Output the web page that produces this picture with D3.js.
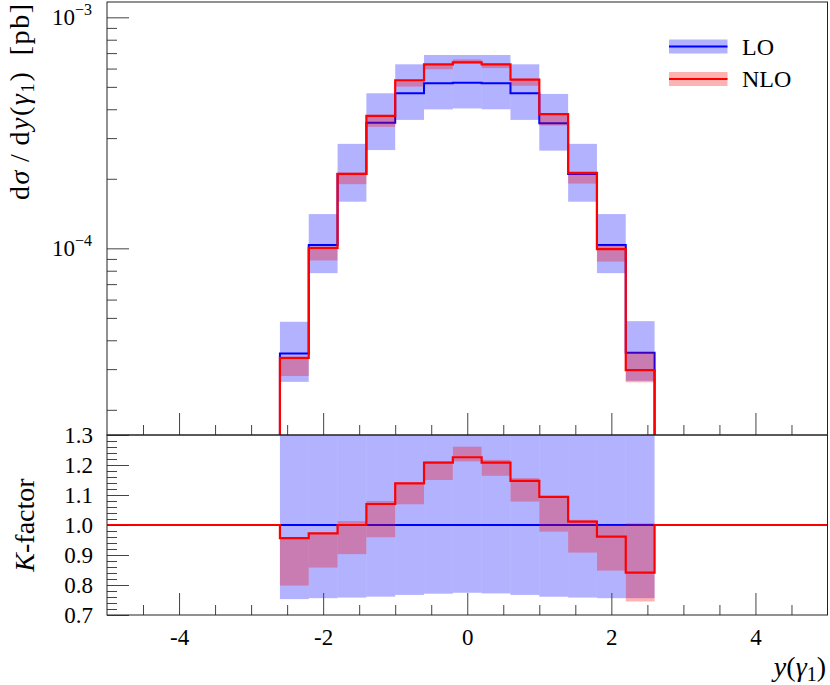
<!DOCTYPE html>
<html>
<head>
<meta charset="utf-8">
<script src="https://cdn.jsdelivr.net/npm/d3@7/dist/d3.min.js"></script>
<style>
  html, body { margin: 0; padding: 0; background: #fff; }
  svg { display: block; }
</style>
</head>
<body>
<svg id="chart" width="830" height="685" style="font-family: 'Liberation Serif', 'DejaVu Serif', serif;"></svg>
<script>
// ---------------- data ----------------
const binEdges = [-2.6, -2.2, -1.8, -1.4, -1.0, -0.6, -0.2, 0.2, 0.6, 1.0, 1.4, 1.8, 2.2, 2.6];

const loCentral = [3.51e-5, 1.033e-4, 2.10e-4, 3.50e-4, 4.69e-4, 5.18e-4, 5.21e-4, 5.18e-4, 4.69e-4, 3.48e-4, 2.10e-4, 1.033e-4, 3.53e-5];
const loUp      = [4.81e-5, 1.407e-4, 2.833e-4, 4.69e-4, 6.26e-4, 6.87e-4, 6.87e-4, 6.87e-4, 6.26e-4, 4.66e-4, 2.833e-4, 1.407e-4, 4.84e-5];
const loDown    = [2.643e-5, 7.81e-5, 1.592e-4, 2.664e-4, 3.597e-4, 3.994e-4, 4.033e-4, 3.999e-4, 3.597e-4, 2.648e-4, 1.592e-4, 7.81e-5, 2.669e-5];

const nloCentral = [3.356e-5, 1.004e-4, 2.10e-4, 3.745e-4, 5.342e-4, 6.257e-4, 6.387e-4, 6.257e-4, 5.379e-4, 3.807e-4, 2.123e-4, 9.927e-5, 2.969e-5];
const nloUp      = [3.359e-5, 1.006e-4, 2.127e-4, 3.78e-4, 5.356e-4, 6.278e-4, 6.57e-4, 6.304e-4, 5.422e-4, 3.818e-4, 2.136e-4, 1.033e-4, 3.551e-5];
const nloDown    = [2.801e-5, 8.863e-5, 1.896e-4, 3.357e-4, 5.014e-4, 5.957e-4, 6.315e-4, 6.03e-4, 5.056e-4, 3.403e-4, 1.907e-4, 8.76e-5, 2.63e-5];

const xDomain = [-5, 5];
const yTopDomain = [1.556e-5, 1.165e-3];
const yBotDomain = [0.7, 1.3];
const xMajorTicks = [-4, -2, 0, 2, 4];
const yTopMajorTicks = [1e-3, 1e-4];
const yTopTickLabels = [["10", "\u22123"], ["10", "\u22124"]];
const yBotMajorTicks = [1.3, 1.2, 1.1, 1.0, 0.9, 0.8, 0.7];
const legendLabels = ["LO", "NLO"];

// ---------------- layout ----------------
const FONT = "'Liberation Serif', 'DejaVu Serif', serif";
const L = 107, R = 827.5, T = 2, M = 435, B = 615;
const svg = d3.select("#chart");

const x = d3.scaleLinear().domain(xDomain).range([L, R]);
const yTop = d3.scaleLog().domain(yTopDomain).range([M, T]);
const yBot = d3.scaleLinear().domain(yBotDomain).range([B, M]);

const blue = "#0000ff", red = "#ff0000";

const defs = svg.append("defs");
defs.append("clipPath").attr("id", "clipTop").append("rect")
  .attr("x", L).attr("y", T).attr("width", R - L).attr("height", M - T);
defs.append("clipPath").attr("id", "clipBot").append("rect")
  .attr("x", L).attr("y", M).attr("width", R - L).attr("height", B - M);

const gTop = svg.append("g").attr("clip-path", "url(#clipTop)");
const gBot = svg.append("g").attr("clip-path", "url(#clipBot)");

const bins = loCentral.map((d, i) => ({ i, x0: binEdges[i], x1: binEdges[i + 1] }));

function bands(g, yS, up, down, color) {
  g.append("g").selectAll("rect").data(bins).join("rect")
    .attr("x", d => x(d.x0))
    .attr("width", d => x(d.x1) - x(d.x0))
    .attr("y", d => yS(up[d.i]))
    .attr("height", d => yS(down[d.i]) - yS(up[d.i]))
    .attr("fill", color).attr("fill-opacity", 0.3);
}

const stepLine = d3.line().x(d => x(d[0])).y(d => d[1]).curve(d3.curveStepAfter);

function topPath(vals) {
  const floorY = M + 20;
  const pts = [[binEdges[0], floorY]];
  vals.forEach((v, i) => pts.push([binEdges[i], yTop(v)]));
  pts.push([binEdges[binEdges.length - 1], floorY]);
  return stepLine(pts);
}
function ratioPath(vals) {
  const pts = [[xDomain[0], yBot(1)]];
  vals.forEach((v, i) => pts.push([binEdges[i], yBot(v / loCentral[i])]));
  pts.push([binEdges[binEdges.length - 1], yBot(1)]);
  pts.push([xDomain[1], yBot(1)]);
  return stepLine(pts);
}

// ---- upper panel ----
bands(gTop, yTop, loUp, loDown, blue);
gTop.append("path").attr("d", topPath(loCentral))
  .attr("fill", "none").attr("stroke", blue).attr("stroke-width", 2);
bands(gTop, yTop, nloUp, nloDown, red);
gTop.append("path").attr("d", topPath(nloCentral))
  .attr("fill", "none").attr("stroke", red).attr("stroke-width", 2.2);

// ---- lower panel ----
const loUpR = loUp.map((v, i) => v / loCentral[i]);
const loDownR = loDown.map((v, i) => v / loCentral[i]);
const nloUpR = nloUp.map((v, i) => v / loCentral[i]);
const nloDownR = nloDown.map((v, i) => v / loCentral[i]);
bands(gBot, yBot, loUpR, loDownR, blue);
gBot.append("path").attr("d", stepLine([[xDomain[0], yBot(1)], [xDomain[1], yBot(1)]]))
  .attr("fill", "none").attr("stroke", blue).attr("stroke-width", 2);
bands(gBot, yBot, nloUpR, nloDownR, red);
gBot.append("path").attr("d", ratioPath(nloCentral))
  .attr("fill", "none").attr("stroke", red).attr("stroke-width", 2.2);

// ---------------- axes ----------------
const tickColor = "#444";
function styleAxis(g) {
  g.attr("font-family", null).attr("font-size", null);
  g.select(".domain").remove();
  g.selectAll(".tick line").attr("stroke", tickColor).attr("stroke-width", 1);
  g.selectAll(".tick text").style("font-family", FONT).style("font-size", "23px").attr("fill", "#000");
}

const xMinor = d3.range(-4.5, 5, 0.5).filter(v => !xMajorTicks.some(m => Math.abs(m - v) < 1e-9));

// upper x ticks (no labels)
svg.append("g").attr("transform", `translate(0,${M})`)
  .call(d3.axisBottom(x).tickValues(xMajorTicks).tickSize(-22).tickFormat(""))
  .call(styleAxis);
svg.append("g").attr("transform", `translate(0,${M})`)
  .call(d3.axisBottom(x).tickValues(xMinor).tickSize(-10).tickFormat(""))
  .call(styleAxis);

// lower x ticks with labels
svg.append("g").attr("transform", `translate(0,${B})`)
  .call(d3.axisBottom(x).tickValues(xMajorTicks).tickSize(-22).tickPadding(14)
    .tickFormat(d => (d < 0 ? "-" + Math.abs(d) : String(d))))
  .call(styleAxis);
svg.append("g").attr("transform", `translate(0,${B})`)
  .call(d3.axisBottom(x).tickValues(xMinor).tickSize(-10).tickFormat(""))
  .call(styleAxis);

// upper y ticks
const yTopMinor = [];
[1e-5, 1e-4, 1e-3].forEach(dec => {
  for (let k = 2; k <= 9; k++) {
    const v = k * dec;
    if (v >= yTopDomain[0] && v <= yTopDomain[1]) yTopMinor.push(v);
  }
});
svg.append("g").attr("transform", `translate(${L},0)`)
  .call(d3.axisLeft(yTop).tickValues(yTopMajorTicks).tickSize(-22).tickFormat(""))
  .call(styleAxis);
svg.append("g").attr("transform", `translate(${L},0)`)
  .call(d3.axisLeft(yTop).tickValues(yTopMinor).tickSize(-10).tickFormat(""))
  .call(styleAxis);
yTopMajorTicks.forEach((v, i) => {
  const t = svg.append("text").attr("x", L - 15).attr("y", yTop(v) + 8)
    .attr("text-anchor", "end").style("font-family", FONT).style("font-size", "23px");
  t.append("tspan").text(yTopTickLabels[i][0]);
  t.append("tspan").attr("dy", -10).style("font-size", "16px").text(yTopTickLabels[i][1]);
});

// lower y ticks
const yBotMinor = d3.range(0.72, 1.29, 0.02).filter(v => Math.abs(v * 10 - Math.round(v * 10)) > 1e-6);
svg.append("g").attr("transform", `translate(${L},0)`)
  .call(d3.axisLeft(yBot).tickValues(yBotMajorTicks).tickSize(-22).tickPadding(14).tickFormat(d3.format(".1f")))
  .call(styleAxis);
svg.append("g").attr("transform", `translate(${L},0)`)
  .call(d3.axisLeft(yBot).tickValues(yBotMinor).tickSize(-10).tickFormat(""))
  .call(styleAxis);

// frames
svg.append("rect").attr("x", L).attr("y", T).attr("width", R - L).attr("height", M - T)
  .attr("fill", "none").attr("stroke", "#222").attr("stroke-width", 1);
svg.append("rect").attr("x", L).attr("y", M).attr("width", R - L).attr("height", B - M)
  .attr("fill", "none").attr("stroke", "#222").attr("stroke-width", 1);

// ---------------- labels ----------------
// upper y label
const yl = svg.append("text").attr("transform", `translate(29,4) rotate(-90)`)
  .attr("text-anchor", "end").style("font-family", FONT).style("font-size", "28px")
  .attr("textLength", 196).attr("lengthAdjust", "spacing");
yl.append("tspan").text("d");
yl.append("tspan").attr("font-style", "italic").text("\u03c3");
yl.append("tspan").text("\u2009/\u2009d");
yl.append("tspan").attr("font-style", "italic").text("y");
yl.append("tspan").text("(");
yl.append("tspan").attr("font-style", "italic").text("\u03b3");
yl.append("tspan").style("font-size", "19px").attr("dy", 5).text("1");
yl.append("tspan").attr("dy", -5).text(")\u2002[pb]");

// lower y label
const kl = svg.append("text").attr("transform", `translate(34,${yBot(1)}) rotate(-90)`)
  .attr("text-anchor", "middle").style("font-family", FONT).style("font-size", "28px");
kl.append("tspan").attr("font-style", "italic").text("K");
kl.append("tspan").text("-factor");

// x label
const xl = svg.append("text").attr("x", 826).attr("y", 676)
  .attr("text-anchor", "end").style("font-family", FONT).style("font-size", "28px");
xl.append("tspan").attr("font-style", "italic").text("y");
xl.append("tspan").text("(");
xl.append("tspan").attr("font-style", "italic").text("\u03b3");
xl.append("tspan").style("font-size", "20px").attr("dy", 5).text("1");
xl.append("tspan").attr("dy", -5).text(")");

// legend
const legColors = [blue, red];
const legY = [46.5, 79];
legendLabels.forEach((lab, i) => {
  svg.append("rect").attr("x", 669).attr("y", legY[i] - 7).attr("width", 58.5).attr("height", 14)
    .attr("fill", legColors[i]).attr("fill-opacity", 0.3);
  svg.append("line").attr("x1", 669).attr("x2", 727.5).attr("y1", legY[i]).attr("y2", legY[i])
    .attr("stroke", legColors[i]).attr("stroke-width", 2);
  svg.append("text").attr("x", 742).attr("y", legY[i] + 8)
    .style("font-family", FONT).style("font-size", "24px").text(lab);
});
</script>
</body>
</html>
